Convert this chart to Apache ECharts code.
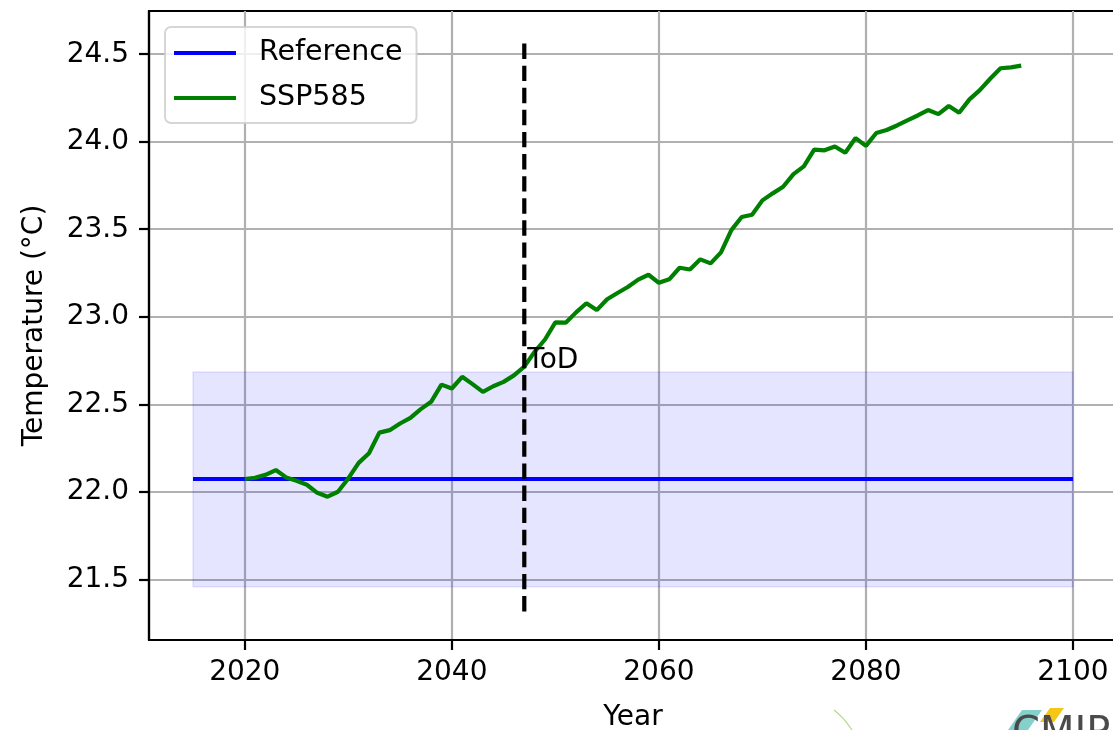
<!DOCTYPE html>
<html><head><meta charset="utf-8">
<script src="https://cdn.jsdelivr.net/npm/echarts@6/dist/echarts.min.js"></script>
<style>html,body{margin:0;padding:0;background:#fff}#c{width:1113px;height:730px}</style>
</head><body><div id="c"></div>
<script>
// ---- data ----
const years = [2020,2021,2022,2023,2024,2025,2026,2027,2028,2029,
  2030,2031,2032,2033,2034,2035,2036,2037,2038,2039,
  2040,2041,2042,2043,2044,2045,2046,2047,2048,2049,
  2050,2051,2052,2053,2054,2055,2056,2057,2058,2059,
  2060,2061,2062,2063,2064,2065,2066,2067,2068,2069,
  2070,2071,2072,2073,2074,2075,2076,2077,2078,2079,
  2080,2081,2082,2083,2084,2085,2086,2087,2088,2089,
  2090,2091,2092,2093,2094,2095];
const ssp585 = [22.073,22.080,22.097,22.124,22.082,22.063,22.040,21.994,21.972,22.000,
  22.076,22.165,22.220,22.338,22.352,22.390,22.422,22.472,22.514,22.612,
  22.590,22.657,22.615,22.571,22.603,22.628,22.665,22.715,22.800,22.870,
  22.968,22.966,23.025,23.077,23.038,23.100,23.136,23.170,23.212,23.240,
  23.194,23.214,23.280,23.270,23.328,23.305,23.368,23.495,23.570,23.583,
  23.665,23.705,23.743,23.815,23.859,23.955,23.951,23.973,23.937,24.021,
  23.976,24.050,24.067,24.093,24.122,24.150,24.181,24.158,24.204,24.166,
  24.242,24.295,24.360,24.420,24.425,24.435];
const refYears = [2015, 2100];
const refValue = 22.073;
const bandLow = 21.457;
const bandHigh = 22.684;
const todYear = 2047;
const todSpan = [21.316, 24.583];
const todLabelValue = 22.715;
const xTicks = [2020, 2040, 2060, 2080, 2100];
const yTicks = [21.5, 22.0, 22.5, 23.0, 23.5, 24.0, 24.5];
const xRange = [2010.75, 2104.25];
const yRange = [21.153, 24.747];
const watermarkText = 'CMIP';

// ---- chart ----
const FONT = 'DejaVu Sans';
const chart = echarts.init(document.getElementById('c'), null, {renderer: 'canvas'});
const axisCommon = {
  axisLine: {show: true, onZero: false, lineStyle: {color: '#000', width: 2.2}},
  axisTick: {show: true, inside: false, length: 10, lineStyle: {color: '#000', width: 2.2}},
  splitLine: {show: true, lineStyle: {color: '#b0b0b0', width: 2.2}},
  nameTextStyle: {fontFamily: FONT, fontSize: 28, color: '#000'}
};
chart.setOption({
  animation: false,
  backgroundColor: '#fff',
  textStyle: {fontFamily: FONT},
  grid: {left: 149, top: 11, width: 968, height: 629, show: true, borderColor: '#000', borderWidth: 2.2,
    backgroundColor: 'transparent', containLabel: false, outerBoundsMode: 'none'},
  xAxis: Object.assign({}, axisCommon, {
    type: 'value', min: xRange[0], max: xRange[1],
    name: 'Year', nameLocation: 'middle', nameGap: 64,
    axisTick: Object.assign({}, axisCommon.axisTick, {customValues: xTicks}),
    axisLabel: {customValues: xTicks, fontFamily: FONT, fontSize: 28, color: '#000', margin: 19,
      formatter: v => String(Math.round(v))}
  }),
  yAxis: Object.assign({}, axisCommon, {
    type: 'value', min: yRange[0], max: yRange[1],
    name: 'Temperature (°C)', nameLocation: 'middle', nameGap: 100,
    axisTick: Object.assign({}, axisCommon.axisTick, {customValues: yTicks}),
    axisLabel: {customValues: yTicks, fontFamily: FONT, fontSize: 28, color: '#000', margin: 20,
      formatter: v => v.toFixed(1)}
  }),
  legend: {
    data: ['Reference', 'SSP585'], orient: 'vertical', left: 165, top: 27,
    icon: 'rect', itemWidth: 62, itemHeight: 4, itemGap: 11,
    padding: [9, 14, 8, 9],
    backgroundColor: 'rgba(255,255,255,0.8)', borderColor: 'rgba(204,204,204,0.8)', borderWidth: 2, borderRadius: 6,
    textStyle: {fontFamily: FONT, fontSize: 28.5, color: '#000', lineHeight: 34, padding: [0, 0, 0, 18]}
  },
  graphic: [
    {type: 'polygon', left: 1008, top: 710, z: 0, silent: true,
      shape: {points: [[0, 20], [14, 0], [34, 0], [20, 20]]}, style: {fill: '#86d0cc'}},
    {type: 'polygon', left: 1040, top: 708, z: 0, silent: true,
      shape: {points: [[0, 14], [10, 0], [24, 0], [14, 14]]}, style: {fill: '#f5c518'}},
    {type: 'text', left: 1012, top: 715, z: 1, silent: true,
      style: {text: watermarkText, fontFamily: FONT, fontSize: 40, fill: '#4a4a4a'}},
    {type: 'bezierCurve', z: 0, silent: true,
      shape: {x1: 834, y1: 710, x2: 852, y2: 730, cpx1: 842, cpy1: 716, cpx2: 848, cpy2: 724},
      style: {stroke: '#b5d98a', lineWidth: 1.2, fill: null}}
  ],
  series: [
    {
      name: 'Reference', type: 'line', symbol: 'none', z: 3,
      data: refYears.map(y => [y, refValue]),
      lineStyle: {color: '#0000ff', width: 4.2}, itemStyle: {color: '#0000ff'},
      markArea: {silent: true, z: 1,
        itemStyle: {color: 'rgba(0,0,255,0.1)', borderColor: 'rgba(0,0,255,0.1)', borderWidth: 1.5},
        data: [[{coord: [refYears[0], bandLow]}, {coord: [refYears[1], bandHigh]}]]}
    },
    {
      name: 'SSP585', type: 'line', symbol: 'none', z: 4,
      data: years.map((y, i) => [y, ssp585[i]]),
      lineStyle: {color: '#008000', width: 4.2}, itemStyle: {color: '#008000'}
    },
    {
      name: 'ToD', type: 'line', symbol: 'none', z: 5,
      data: todSpan.map(v => [todYear, v]),
      lineStyle: {color: '#000', width: 4.2, type: [15.4, 6.7]}
    },
    {
      name: 'ToDLabel', type: 'scatter', symbolSize: 0, z: 6, silent: true,
      data: [[todYear, todLabelValue]],
      itemStyle: {color: '#000'},
      label: {show: true, formatter: 'ToD', position: 'right', distance: 3, verticalAlign: 'bottom',
        offset: [0, 8], fontFamily: FONT, fontSize: 28, color: '#000', opacity: 1, textBorderWidth: 0}
    }
  ]
});
</script>
</body></html>
